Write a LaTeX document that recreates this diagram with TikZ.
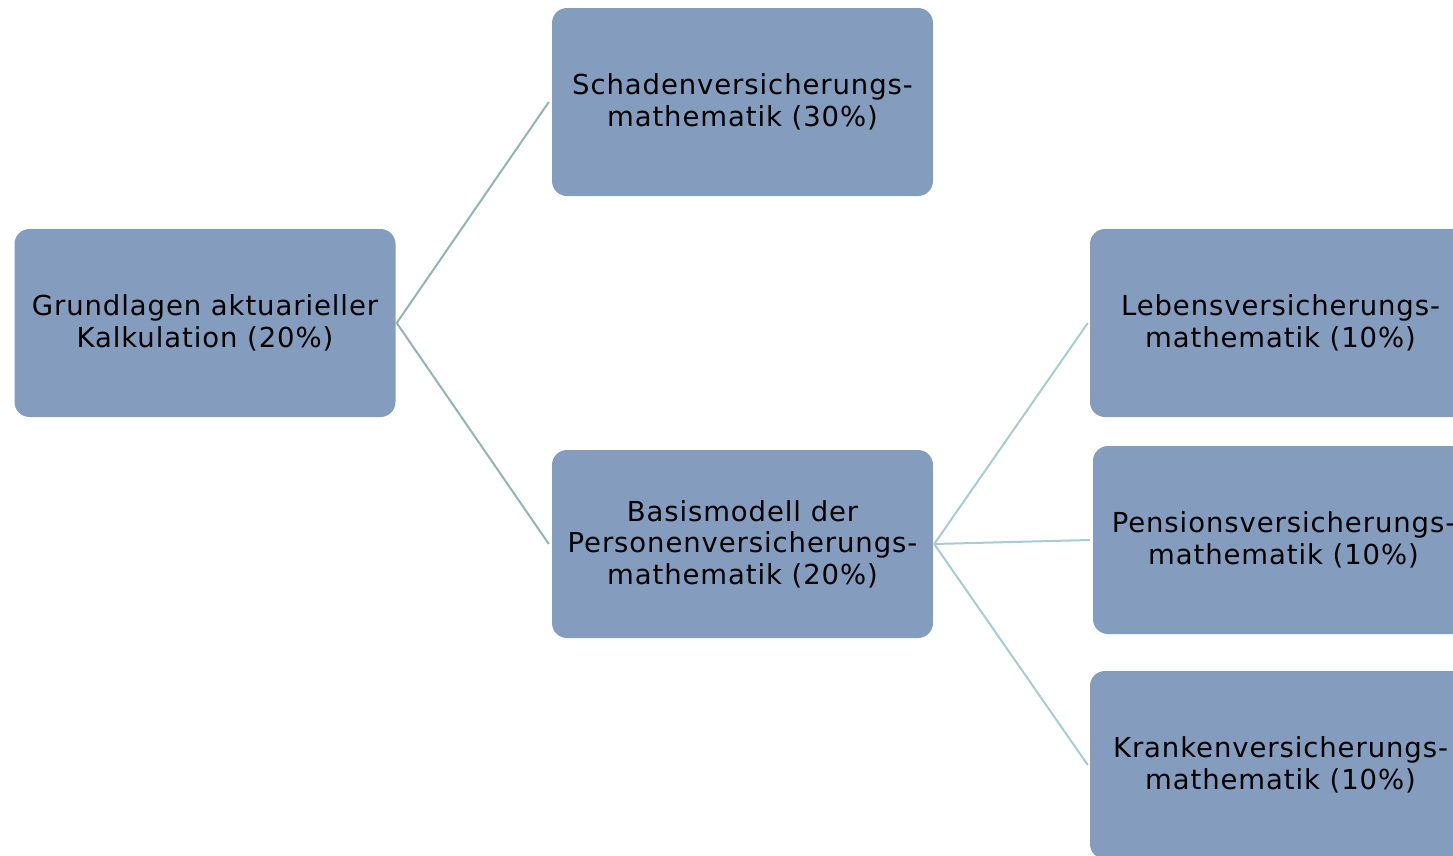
\documentclass[tikz,border=0pt]{standalone}
\usepackage{fontspec}
\setmainfont{DejaVu Sans}[LetterSpace=3.3]
\definecolor{boxfill}{HTML}{849DBE}
\definecolor{lineA}{HTML}{95B3B5}
\definecolor{lineB}{HTML}{A8CCCF}
\begin{document}
\begin{tikzpicture}[x=1pt,y=-1pt,
  topic/.style={draw=none,fill=boxfill,rounded corners=15pt,minimum width=381pt,minimum height=188pt,
    inner sep=0pt,align=center,font=\fontsize{27.5pt}{31.5pt}\selectfont,text=black},
  linkA/.style={draw=lineA,line width=2pt},
  linkB/.style={draw=lineB,line width=2pt}]
\path[use as bounding box,clip] (0,0) rectangle (1453,855);
\node[topic] (root) at (205,323) {Grundlagen aktuarieller\\Kalkulation (20\%)};
\node[topic] (schaden) at (742.5,102) {Schadenversicherungs-\\mathematik (30\%)};
\node[topic] (basis) at (742.5,544) {Basismodell der\\Personenversicherungs-\\mathematik (20\%)};
\node[topic] (leben) at (1280.5,323) {Lebensversicherungs-\\mathematik (10\%)};
\node[topic] (pension) at (1283.5,540) {Pensionsversicherungs-\\mathematik (10\%)};
\node[topic] (kranken) at (1280.5,765) {Krankenversicherungs-\\mathematik (10\%)};
\draw[linkA] ([xshift=1pt]root.east) -- ([xshift=-3pt]schaden.west);
\draw[linkA] ([xshift=1pt]root.east) -- ([xshift=-3pt]basis.west);
\draw[linkB] ([xshift=1pt]basis.east) -- ([xshift=-2pt]leben.west);
\draw[linkB] ([xshift=1pt]basis.east) -- ([xshift=-3pt]pension.west);
\draw[linkB] ([xshift=1pt]basis.east) -- ([xshift=-2pt]kranken.west);
\end{tikzpicture}
\end{document}
